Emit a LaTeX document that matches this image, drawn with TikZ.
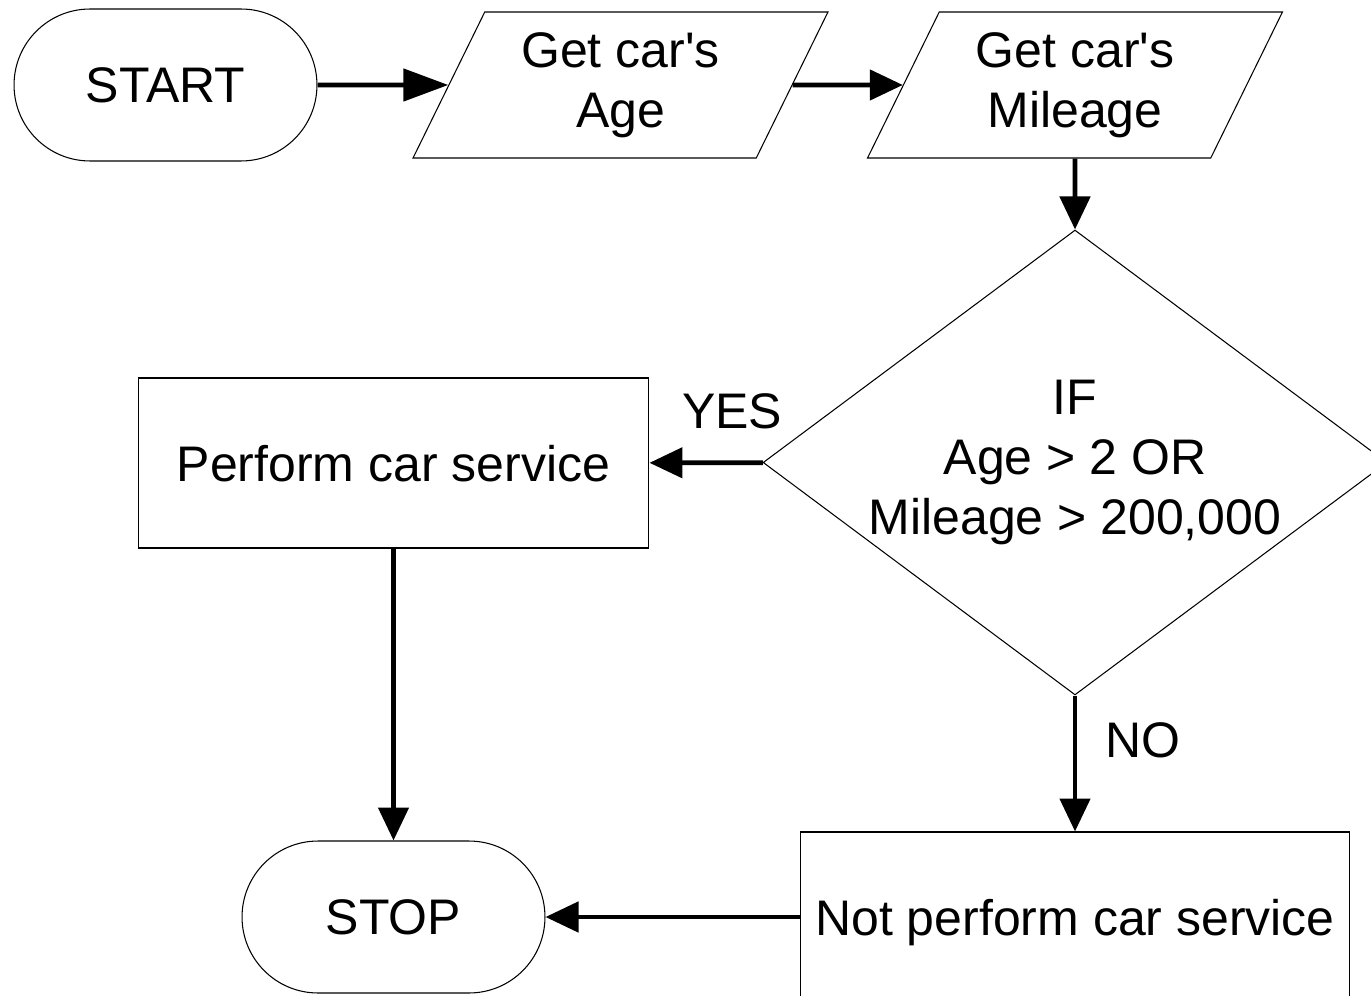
\documentclass[tikz,border=0pt]{standalone}
\usepackage{fontspec}
\setmainfont{Liberation Sans}
\usetikzlibrary{shapes.geometric,arrows.meta}
\tikzset{>={Triangle[length=6.6mm,width=6mm]}}
\tikzset{
  terminal/.style={draw,line width=.6pt,rectangle,rounded corners=1.52cm,minimum width=6.06cm,minimum height=3.04cm},
  io/.style={draw,line width=.6pt,trapezium,trapezium left angle=63.4,trapezium right angle=116.6,
    trapezium stretches body,minimum width=8.3cm,minimum height=2.92cm,inner xsep=0pt,inner ysep=.38cm,align=center},
  process/.style={draw,line width=.6pt,rectangle,minimum height=3.4cm,inner sep=0pt,text depth=0pt},
  decision/.style={draw,line width=.6pt,diamond,minimum width=12.48cm,minimum height=9.3cm,inner sep=0pt},
  flow/.style={->,line width=2.7pt},
  txt/.style={inner sep=0pt}
}
\newcommand*{\q}{\textquotesingle}

\begin{document}
\begin{tikzpicture}[x=.02cm,y=-.02cm,font=\fontsize{28.45}{34.1}\selectfont]
\useasboundingbox (0,0) rectangle (1371,996);
\clip (0,0) rectangle (1371,996);
\node[terminal] (start) at (165.5,85) {START};
\node[io] (age) at (620.5,85) {Get car\q s\\Age};
\node[io] (mileage) at (1075,85) {Get car\q s\\Mileage};
\node[decision] (cond) at (1075,462.5) {};
\node[txt,align=center] (condtext) at (cond) {IF\\Age > 2 OR\\Mileage > 200,000};
\node[process,minimum width=10.22cm] (service) at (393.5,463) {Perform car service};
\node[process,minimum width=11cm] (noservice) at (1075,917) {Not perform car service};
\node[terminal] (stop) at (393.5,917) {STOP};

\draw[flow,-{Triangle[length=9mm,width=6.4mm]}] (start) -- (age);
\draw[flow] (age) -- (mileage);
\draw[flow] (mileage) -- (cond);
\draw[flow] (cond) -- node[txt,pos=.27,above=6.2mm] (yes) {YES} (service);
\draw[flow] (cond) -- node[txt,pos=.33,right=5.6mm] (no) {NO} (noservice);
\draw[flow] (service) -- (stop);
\draw[flow] (noservice) -- (stop);
\end{tikzpicture}
\end{document}
